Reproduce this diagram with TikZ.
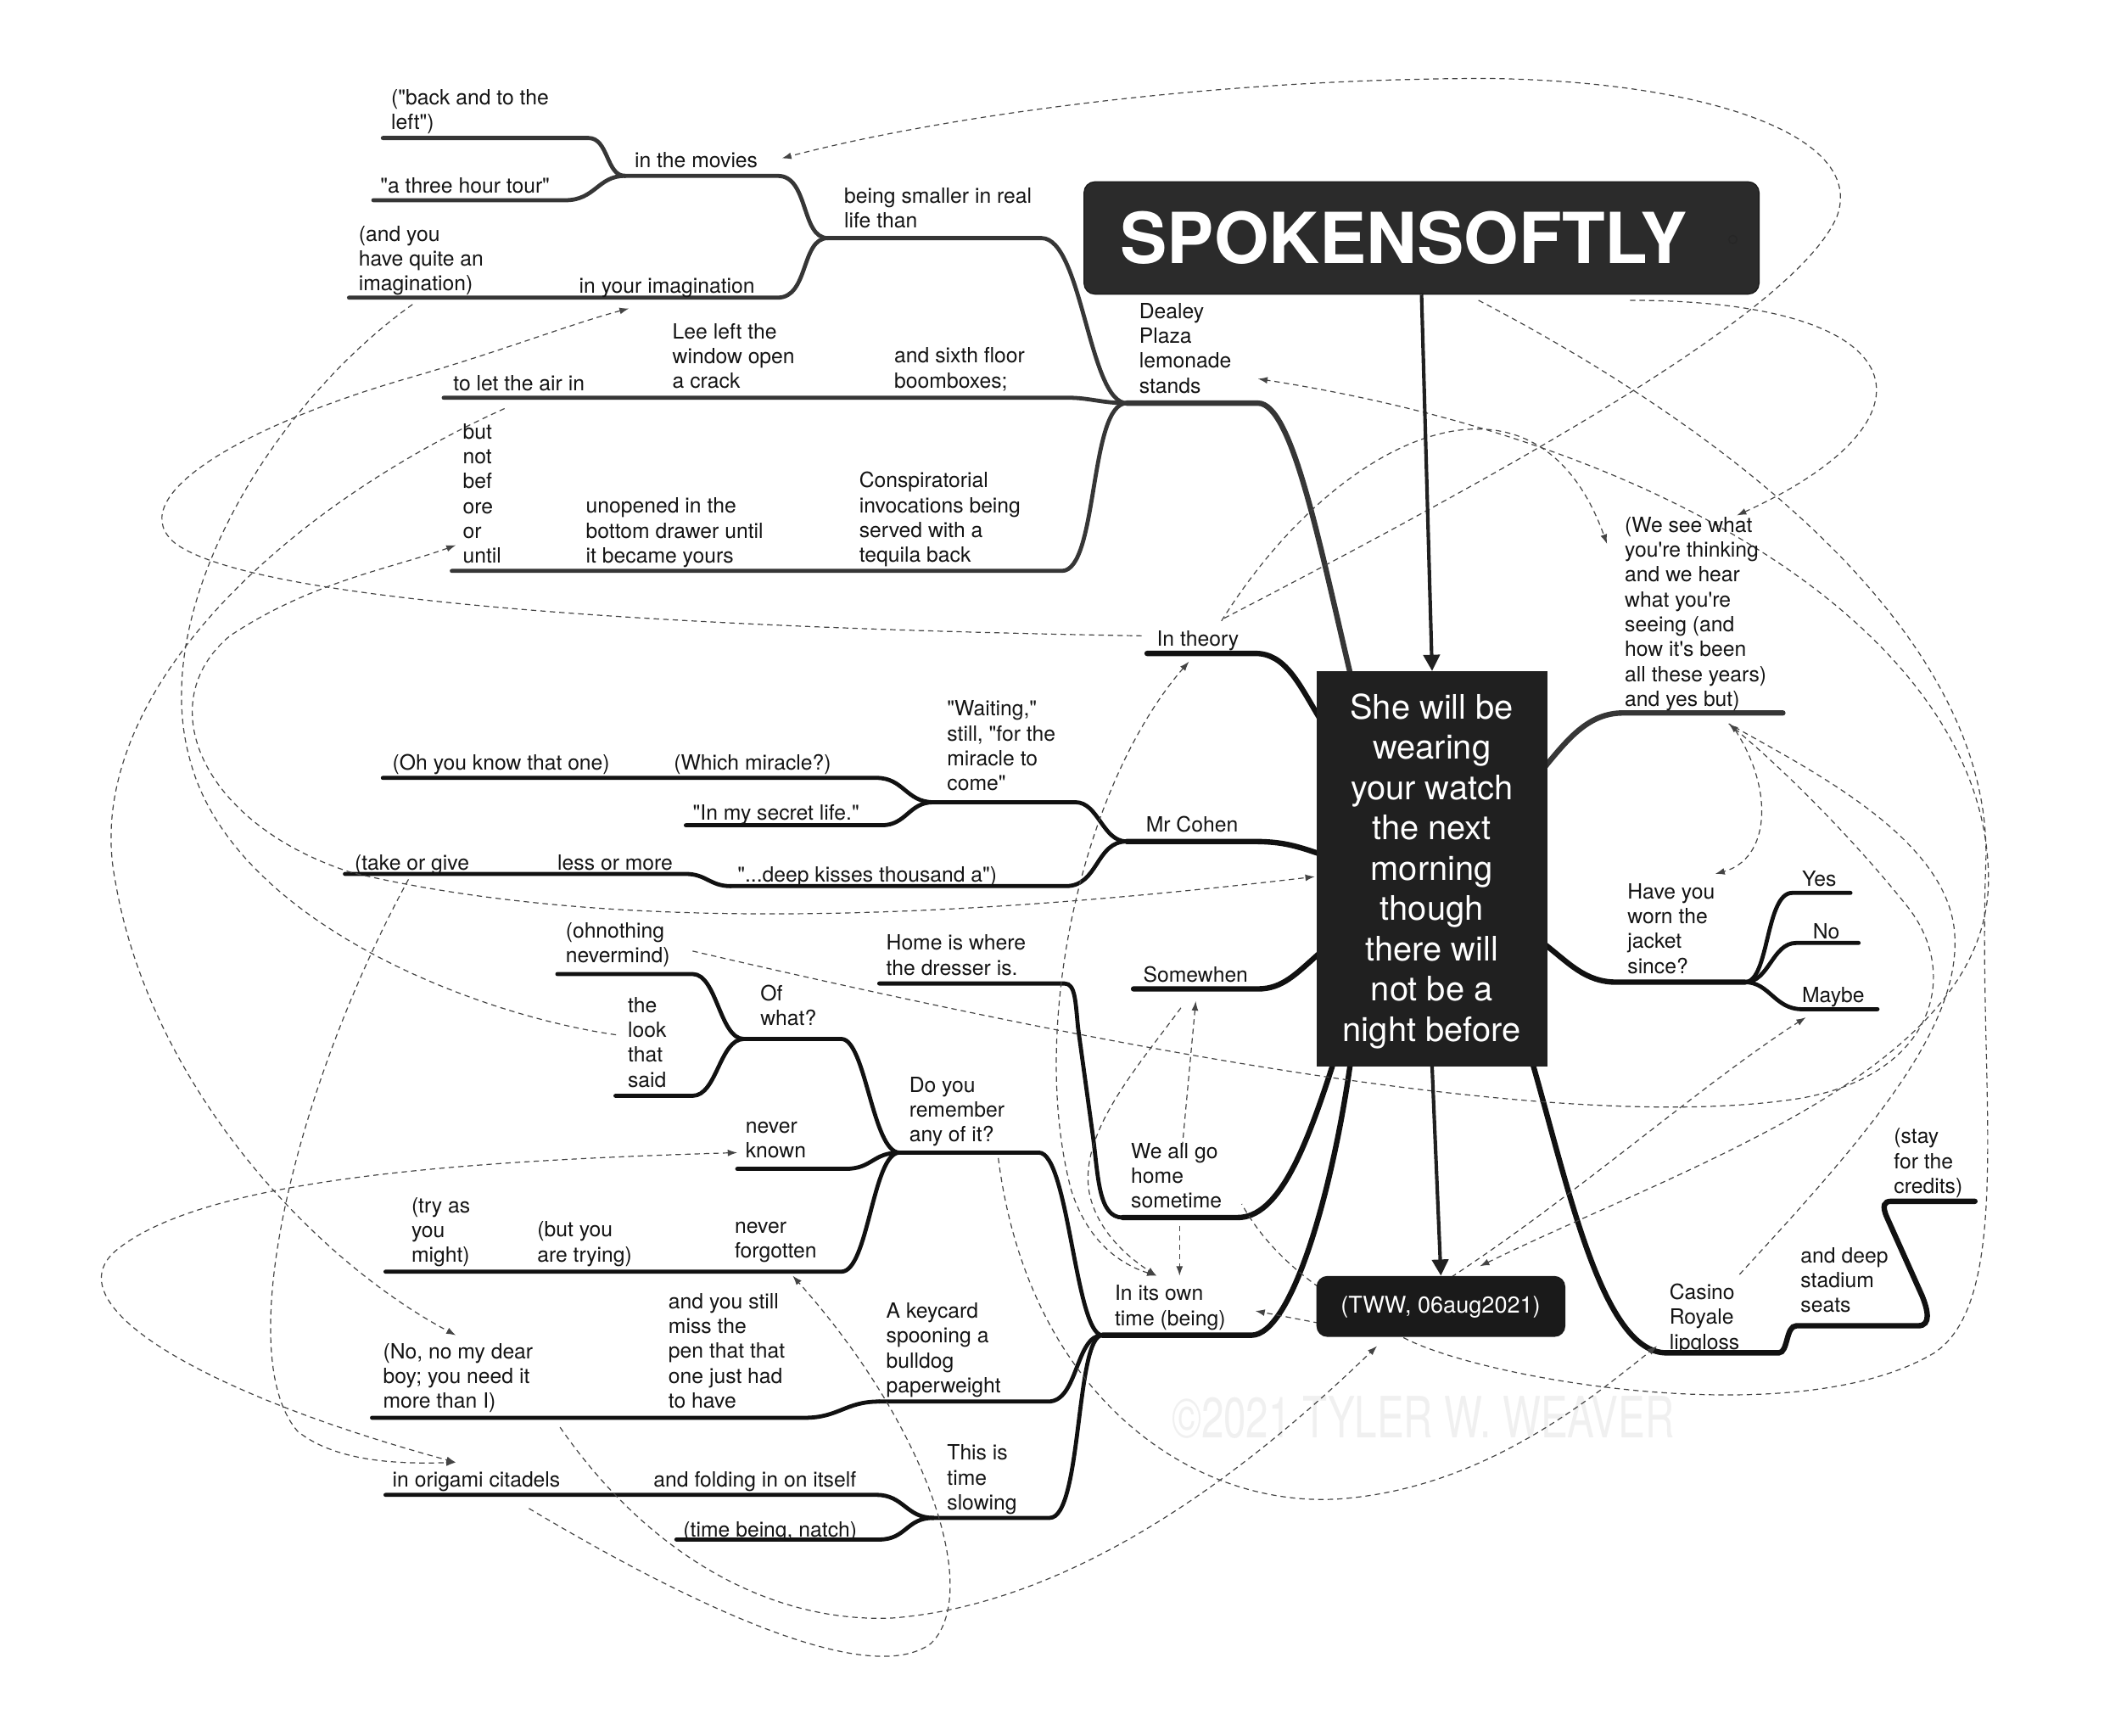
\documentclass[tikz,border=0pt]{standalone}
\usepackage{fontspec}
\usepackage{graphicx}
\setmainfont[Ligatures=TeXOff]{TeX Gyre Heros}
\usetikzlibrary{arrows.meta}
\definecolor{boxA}{HTML}{2B2B2B}
\definecolor{boxB}{HTML}{202020}
\definecolor{boxC}{HTML}{1A1A1A}
\definecolor{lineG}{HTML}{363636}
\definecolor{lineK}{HTML}{111111}
\definecolor{dashc}{HTML}{444444}
\definecolor{wmark}{HTML}{F0F0F0}
\newcommand\lbfont{\fontsize{15.5}{18.4}\selectfont}
\begin{document}
\begin{tikzpicture}[x=1pt,y=-1pt,
  lbl/.style={font=\lbfont, anchor=north west, inner sep=0pt, align=left, execute at begin node=\strut, text=black!92, yshift=-0.8pt},
  brG/.style={draw=lineG, line width=3pt, line cap=round},
  brK/.style={draw=lineK, line width=3pt, line cap=round},
  trunk/.style={line width=4pt},
  dl/.style={draw=dashc, line width=0.75pt, dash pattern=on 4pt off 3pt},
  ah/.style={-{Latex[length=7pt,width=5pt]}},
  ahb/.style={{Latex[length=7pt,width=5pt]}-{Latex[length=7pt,width=5pt]}},
  solidarrow/.style={draw=boxB, line width=2.6pt, -{Triangle[length=12pt,width=12pt]}}]
\fill[white] (0,0) rectangle (1568,1283);
\useasboundingbox (0,0) rectangle (1568,1283);

% watermark
\node[anchor=base west, inner sep=0pt, text=wmark, font=\fontsize{42}{42}\selectfont] (wm) at (866,1063) {\scalebox{0.71}[1]{©2021 TYLER W. WEAVER}};

% ---------- coordinates of branch lines ----------
\coordinate (cDealR) at (930,298); \coordinate (cDealL) at (833,298);
\coordinate (cBeingR) at (770,176); \coordinate (cBeingL) at (612,176);
\coordinate (cSixR) at (790,294); \coordinate (cSixL) at (655,294);
\coordinate (cLeeL) at (405,294); \coordinate (cAirL) at (328,294);
\coordinate (cConR) at (785,422); \coordinate (cConL) at (630,422);
\coordinate (cUnoL) at (428,422); \coordinate (cButL) at (334,422);
\coordinate (cMovR) at (575,130); \coordinate (cMovL) at (462,130);
\coordinate (cImgR) at (575,220); \coordinate (cImgL) at (420,220); \coordinate (cAndL) at (258,220);
\coordinate (cBackR) at (435,102); \coordinate (cBackL) at (283,102);
\coordinate (cTourR) at (418,148); \coordinate (cTourL) at (276,148);
\coordinate (cThR) at (928,483); \coordinate (cThL) at (848,483);
\coordinate (cCohR) at (925,622); \coordinate (cCohL) at (833,622);
\coordinate (cWaitR) at (795,593); \coordinate (cWaitL) at (690,593);
\coordinate (cDeepR) at (788,655); \coordinate (cDeepL) at (540,655);
\coordinate (cWhR) at (648,575); \coordinate (cWhL) at (490,575); \coordinate (cOhL) at (283,575);
\coordinate (cSecR) at (652,610); \coordinate (cSecL) at (507,610);
\coordinate (cLessR) at (507,646); \coordinate (cLessL) at (405,646); \coordinate (cTakeL) at (255,646);
\coordinate (cSomR) at (930,731); \coordinate (cSomL) at (838,731);
\coordinate (cWeR) at (915,900); \coordinate (cWeL) at (830,900);
\coordinate (cHomeR) at (787,727); \coordinate (cHomeL) at (650,727);
\coordinate (cOwnR) at (925,987); \coordinate (cOwnL) at (815,987);
\coordinate (cRemR) at (768,852); \coordinate (cRemL) at (665,852);
\coordinate (cKeyR) at (775,1036); \coordinate (cKeyL) at (650,1036);
\coordinate (cPenR) at (595,1048); \coordinate (cPenL) at (490,1048); \coordinate (cNoL) at (275,1048);
\coordinate (cSlowR) at (776,1122); \coordinate (cSlowL) at (690,1122);
\coordinate (cFoldR) at (648,1105); \coordinate (cFoldL) at (480,1105); \coordinate (cOriL) at (285,1105);
\coordinate (cNatR) at (650,1138); \coordinate (cNatL) at (500,1138);
\coordinate (cOfR) at (622,768); \coordinate (cOfL) at (550,768);
\coordinate (cOhnR) at (512,720); \coordinate (cOhnL) at (412,720);
\coordinate (cLookR) at (512,810); \coordinate (cLookL) at (455,810);
\coordinate (cKnR) at (625,864); \coordinate (cKnL) at (545,864);
\coordinate (cFgR) at (622,940); \coordinate (cFgL) at (540,940); \coordinate (cButyL) at (390,940); \coordinate (cTryL) at (285,940);
\coordinate (cSeeL) at (1200,527); \coordinate (cSeeR) at (1318,527);
\coordinate (cHaveL) at (1195,726); \coordinate (cHaveR) at (1290,726);
\coordinate (cYesL) at (1325,660); \coordinate (cYesR) at (1368,660);
\coordinate (cNoL2) at (1328,697); \coordinate (cNoR2) at (1374,697);
\coordinate (cMayL) at (1332,746); \coordinate (cMayR) at (1388,746);
\coordinate (cCasL) at (1232,1000); \coordinate (cCasR) at (1315,1000);
\coordinate (cSeatL) at (1328,980); \coordinate (cSeatR) at (1418,980);
\coordinate (cCredL) at (1398,888); \coordinate (cCredR) at (1460,888);
\coordinate (kDeal) at (998,497); \coordinate (kTh) at (975,530); \coordinate (kCoh) at (975,631);
\coordinate (kSom) at (975,705); \coordinate (kWe) at (985,788); \coordinate (kOwn) at (998,788);
\coordinate (kSee) at (1142,567); \coordinate (kHave) at (1142,698); \coordinate (kCas) at (1133,786);

% ---------- upper (grey) cluster ----------
\draw[brG, trunk] (kDeal) .. controls (975,400) and (955,298) .. (cDealR) -- (cDealL);
\draw[brG] (cDealL) .. controls (805,298) and (800,176) .. (cBeingR) -- (cBeingL);
\draw[brG] (cDealL) .. controls (815,298) and (805,294) .. (cSixR) -- (cSixL) -- (cLeeL) -- (cAirL);
\draw[brG] (cDealL) .. controls (805,298) and (812,422) .. (cConR) -- (cConL) -- (cUnoL) -- (cButL);
\draw[brG] (cBeingL) .. controls (592,176) and (598,130) .. (cMovR) -- (cMovL);
\draw[brG] (cBeingL) .. controls (592,176) and (598,220) .. (cImgR) -- (cImgL) -- (cAndL);
\draw[brG] (cMovL) .. controls (448,130) and (450,102) .. (cBackR) -- (cBackL);
\draw[brG] (cMovL) .. controls (442,130) and (440,148) .. (cTourR) -- (cTourL);

% ---------- lower (black) cluster ----------
\draw[brK, trunk] (kTh) .. controls (960,505) and (950,483) .. (cThR) -- (cThL);
\draw[brK, trunk] (kCoh) .. controls (955,624) and (945,622) .. (cCohR) -- (cCohL);
\draw[brK] (cCohL) .. controls (815,622) and (812,593) .. (cWaitR) -- (cWaitL);
\draw[brK] (cCohL) .. controls (810,622) and (812,655) .. (cDeepR) -- (cDeepL);
\draw[brK] (cWaitL) .. controls (670,593) and (668,575) .. (cWhR) -- (cWhL) -- (cOhL);
\draw[brK] (cWaitL) .. controls (672,593) and (670,610) .. (cSecR) -- (cSecL);
\draw[brK] (cDeepL) .. controls (525,655) and (522,646) .. (cLessR) -- (cLessL) -- (cTakeL);
\draw[brK, trunk] (kSom) .. controls (958,720) and (948,731) .. (cSomR) -- (cSomL);
\draw[brK, trunk] (kWe) .. controls (965,850) and (945,900) .. (cWeR) -- (cWeL);
\draw[brK] (cWeL) .. controls (812,900) and (812,870) .. (808,840) -- (797,760) .. controls (795,740) and (795,727) .. (cHomeR) -- (cHomeL);
\draw[brK, trunk] (kOwn) .. controls (985,880) and (955,987) .. (cOwnR) -- (cOwnL);
\draw[brK] (cOwnL) .. controls (795,987) and (790,852) .. (cRemR) -- (cRemL);
\draw[brK] (cOwnL) .. controls (795,987) and (797,1036) .. (cKeyR) -- (cKeyL);
\draw[brK] (cKeyL) .. controls (625,1036) and (620,1048) .. (cPenR) -- (cPenL) -- (cNoL);
\draw[brK] (cOwnL) .. controls (795,987) and (800,1122) .. (cSlowR) -- (cSlowL);
\draw[brK] (cSlowL) .. controls (670,1122) and (668,1105) .. (cFoldR) -- (cFoldL) -- (cOriL);
\draw[brK] (cSlowL) .. controls (670,1122) and (670,1138) .. (cNatR) -- (cNatL);
\draw[brK] (cRemL) .. controls (645,852) and (640,768) .. (cOfR) -- (cOfL);
\draw[brK] (cOfL) .. controls (532,768) and (530,720) .. (cOhnR) -- (cOhnL);
\draw[brK] (cOfL) .. controls (532,768) and (530,810) .. (cLookR) -- (cLookL);
\draw[brK] (cRemL) .. controls (645,852) and (645,864) .. (cKnR) -- (cKnL);
\draw[brK] (cRemL) .. controls (645,852) and (642,940) .. (cFgR) -- (cFgL) -- (cButyL) -- (cTryL);

% ---------- right side ----------
\draw[brG, trunk] (kSee) .. controls (1160,545) and (1175,527) .. (cSeeL) -- (cSeeR);
\draw[brK, trunk] (kHave) .. controls (1160,712) and (1172,726) .. (cHaveL) -- (cHaveR);
\draw[brK] (cHaveR) .. controls (1308,726) and (1305,660) .. (cYesL) -- (cYesR);
\draw[brK] (cHaveR) .. controls (1308,726) and (1310,697) .. (cNoL2) -- (cNoR2);
\draw[brK] (cHaveR) .. controls (1308,726) and (1312,746) .. (cMayL) -- (cMayR);
\draw[brK, trunk] (kCas) .. controls (1160,880) and (1185,1000) .. (cCasL) -- (cCasR)
  .. controls (1322,1000) and (1320,980) .. (cSeatL) -- (cSeatR)
  .. controls (1428,980) and (1425,968) .. (1421,958) -- (1395,900)
  .. controls (1391,891) and (1393,888) .. (cCredL) -- (cCredR);

% ---------- dashed cross links ----------
\coordinate (dTh1) at (905,457); \coordinate (dMov) at (578,117);
\coordinate (dTh2) at (903,459); \coordinate (dSee1) at (1188,402);
\coordinate (dSp2) at (1205,222); \coordinate (dSee2) at (1284,381);
\coordinate (dSp1) at (1093,222); \coordinate (dWe1) at (918,890);
\coordinate (dTww1) at (1094,936); \coordinate (dDeal) at (930,280);
\coordinate (dOhn) at (512,703); \coordinate (dSee3) at (1278,535);
\coordinate (dCas) at (1286,942);
\coordinate (dSee4) at (1283,540); \coordinate (dHave) at (1268,646);
\coordinate (dTww2) at (1073,944); \coordinate (dMay) at (1335,752);
\coordinate (dRem) at (738,856); \coordinate (dCas2) at (1225,995);
\coordinate (dNo) at (414,1055); \coordinate (dTww3) at (1018,995);
\coordinate (dOri) at (391,1115); \coordinate (dFg) at (586,943);
\coordinate (dTh3) at (879,489); \coordinate (dOwn1) at (855,943);
\coordinate (dSom1) at (873,745);
\coordinate (dWe2) at (874,848); \coordinate (dSom2) at (884,740);
\coordinate (dWe3) at (872,906); \coordinate (dOwn2) at (872,943);
\coordinate (dTww4) at (975,978); \coordinate (dOwn3) at (928,969);
\coordinate (dTh4) at (844,470); \coordinate (dImg) at (465,228);
\coordinate (dAnd) at (305,225); \coordinate (dLook) at (456,765);
\coordinate (dAir) at (373,302); \coordinate (dNo2) at (337,987);
\coordinate (dCore) at (972,648); \coordinate (dOr) at (337,403);
\coordinate (dTake) at (302,650); \coordinate (dOri2) at (337,1081);
\coordinate (dKn) at (545,852);

\draw[dl, ah] (dTh1) .. controls (1150,330) and (1330,225) .. (1358,160) .. controls (1380,100) and (1260,60) .. (1100,58) .. controls (900,58) and (700,85) .. (dMov);
\draw[dl, ah] (dTh2) .. controls (990,320) and (1135,255) .. (dSee1);
\draw[dl, ah] (dSp2) .. controls (1420,222) and (1440,310) .. (dSee2);
\draw[dl] (dSp1) .. controls (1300,330) and (1475,480) .. (1468,640) .. controls (1462,800) and (1490,960) .. (1430,1000) .. controls (1330,1060) and (1100,1020) .. (1040,990) .. controls (980,960) and (940,930) .. (dWe1);
\draw[dl, ahb] (dTww1) .. controls (1250,860) and (1470,790) .. (1470,650) .. controls (1470,480) and (1250,330) .. (dDeal);
\draw[dl, ah] (dOhn) .. controls (800,770) and (1150,840) .. (1330,812) .. controls (1430,795) and (1450,720) .. (1410,670) .. controls (1370,620) and (1320,570) .. (dSee3);
\draw[dl] (dCas) .. controls (1380,840) and (1450,760) .. (1445,690) .. controls (1440,620) and (1340,570) .. (dSee3);
\draw[dl, ah] (dSee4) .. controls (1312,585) and (1308,635) .. (dHave);
\draw[dl, ah] (dTww2) .. controls (1170,880) and (1260,800) .. (dMay);
\draw[dl, ah] (dRem) .. controls (760,1030) and (880,1115) .. (990,1108) .. controls (1100,1100) and (1180,1030) .. (dCas2);
\draw[dl, ah] (dNo) .. controls (480,1150) and (570,1200) .. (660,1196) .. controls (800,1185) and (930,1080) .. (dTww3);
\draw[dl, ah] (dOri) .. controls (500,1180) and (640,1250) .. (688,1215) .. controls (725,1180) and (690,1060) .. (dFg);
\draw[dl, ahb] (dOwn1) .. controls (830,935) and (805,920) .. (792,880) .. controls (760,760) and (800,580) .. (dTh3);
\draw[dl, ah] (dSom1) .. controls (840,790) and (795,840) .. (806,885) .. controls (813,912) and (835,930) .. (dOwn1);
\draw[dl, ah] (dWe2) -- (dSom2);
\draw[dl, ah] (dWe3) -- (dOwn2);
\draw[dl, ah] (dTww4) -- (dOwn3);
\draw[dl, ah] (dTh4) .. controls (600,466) and (200,452) .. (130,402) .. controls (90,370) and (170,318) .. (300,280) .. controls (370,260) and (420,240) .. (dImg);
\draw[dl] (dAnd) .. controls (200,300) and (110,450) .. (140,560) .. controls (170,680) and (350,750) .. (dLook);
\draw[dl, ah] (dAir) .. controls (200,380) and (60,520) .. (85,650) .. controls (110,800) and (230,930) .. (dNo2);
\draw[dl, ahb] (dOr) .. controls (290,420) and (230,430) .. (170,470) .. controls (110,520) and (150,610) .. (260,645) .. controls (450,690) and (700,680) .. (dCore);
\draw[dl, ah] (dTake) .. controls (220,800) and (170,1000) .. (220,1058) .. controls (250,1082) and (300,1082) .. (dOri2);
\draw[dl, ahb] (dKn) .. controls (350,858) and (150,870) .. (85,925) .. controls (40,965) and (150,1030) .. (dOri2);

% ---------- boxes ----------
\node[draw=black!90, fill=boxA, rounded corners=8pt, minimum width=499pt, minimum height=83pt, anchor=north west, inner sep=0pt, line width=0.8pt] (title) at (801,134) {};
\node[anchor=west, inner sep=0pt, text=white, font=\fontsize{52}{60}\selectfont\bfseries] (titletext) at (828,176) {SPOKENSOFTLY};
\node[circle, draw=black!85, line width=0.8pt, minimum size=6pt, inner sep=0pt] (titledot) at (1281,177) {};
\node[fill=boxB, minimum width=171pt, minimum height=292pt, anchor=north west, inner sep=0pt] (core) at (973,496) {};
\node[text=white, align=center, inner sep=0pt, font=\fontsize{25}{29.8}\selectfont] (coretext) at (1058.5,644) {She will be\\wearing\\your watch\\the next\\morning\\though\\there will\\not be a\\night before};
\node[fill=boxC, rounded corners=8pt, minimum width=184pt, minimum height=45pt, anchor=north west, inner sep=0pt] (tww) at (973,943) {};
\node[text=white, inner sep=0pt, font=\fontsize{17}{20}\selectfont] (twwtext) at (1065,966) {(TWW, 06aug2021)};
\draw[solidarrow] (title.south) -- (core.north);
\draw[solidarrow] (core.south) -- (tww.north);

% ---------- labels ----------
\node[lbl] (nBack) at (289,65) {("back and to the\\left")};
\node[lbl] (nTour) at (281,129) {"a three hour tour"};
\node[lbl] (nMov) at (469,110) {in the movies};
\node[lbl] (nBeing) at (624,138) {being smaller in real\\life than};
\node[lbl] (nAnd) at (265,166) {(and you\\have quite an\\imagination)};
\node[lbl] (nImg) at (428,203) {in your imagination};
\node[lbl] (nDeal) at (842,223) {Dealey\\Plaza\\lemonade\\stands};
\node[lbl] (nLee) at (497,238) {Lee left the\\window open\\a crack};
\node[lbl] (nSix) at (661,256) {and sixth floor\\boomboxes;};
\node[lbl] (nAir) at (335,275) {to let the air in};
\node[lbl] (nBut) at (342,312) {but\\not\\bef\\ore\\or\\until};
\node[lbl] (nUno) at (433,367) {unopened in the\\bottom drawer until\\it became yours};
\node[lbl] (nCon) at (635,348) {Conspiratorial\\invocations being\\served with a\\tequila back};
\node[lbl] (nTh) at (855,464) {In theory};
\node[lbl] (nWait) at (700,517) {"Waiting,"\\still, "for the\\miracle to\\come"};
\node[lbl] (nWh) at (498,555) {(Which miracle?)};
\node[lbl] (nOh) at (290,555) {(Oh you know that one)};
\node[lbl] (nSec) at (512,592) {"In my secret life."};
\node[lbl] (nCoh) at (847,601) {Mr Cohen};
\node[lbl] (nTake) at (262,629) {(take or give};
\node[lbl] (nLess) at (412,629) {less or more};
\node[lbl] (nDeep) at (545,638) {"...deep kisses thousand a")};
\node[lbl] (nOhn) at (418,681) {(ohnothing\\nevermind)};
\node[lbl] (nHome) at (655,690) {Home is where\\the dresser is.};
\node[lbl] (nSom) at (845,712) {Somewhen};
\node[lbl] (nOf) at (562,727) {Of\\what?};
\node[lbl] (nLook) at (464,736) {the\\look\\that\\said};
\node[lbl] (nRem) at (672,795) {Do you\\remember\\any of it?};
\node[lbl] (nKn) at (551,828) {never\\known};
\node[lbl] (nWe) at (836,844) {We all go\\home\\sometime};
\node[lbl] (nTry) at (304,884) {(try as\\you\\might)};
\node[lbl] (nButy) at (397,902) {(but you\\are trying)};
\node[lbl] (nFg) at (543,902) {never\\forgotten};
\node[lbl] (nOwn) at (824,949) {In its own\\time (being)};
\node[lbl] (nKey) at (655,962) {A keycard\\spooning a\\bulldog\\paperweight};
\node[lbl] (nPen) at (494,955) {and you still\\miss the\\pen that that\\one just had\\to have};
\node[lbl] (nNo) at (283,992) {(No, no my dear\\boy; you need it\\more than I)};
\node[lbl] (nSlow) at (700,1067) {This is\\time\\slowing};
\node[lbl] (nOri) at (290,1085) {in origami citadels};
\node[lbl] (nFold) at (483,1085) {and folding in on itself};
\node[lbl] (nNat) at (505,1122) {(time being, natch)};
\node[lbl] (nSee) at (1201,381) {(We see what\\you're thinking\\and we hear\\what you're\\seeing (and\\how it's been\\all these years)\\and yes but)};
\node[lbl] (nHave) at (1203,652) {Have you\\worn the\\jacket\\since?};
\node[lbl] (nYes) at (1332,641) {Yes};
\node[lbl] (nNo2) at (1340,680) {No};
\node[lbl] (nMay) at (1332,727) {Maybe};
\node[lbl] (nCas) at (1234,948) {Casino\\Royale\\lipgloss};
\node[lbl] (nSeat) at (1331,921) {and deep\\stadium\\seats};
\node[lbl] (nCred) at (1400,833) {(stay\\for the\\credits)};
\end{tikzpicture}
\end{document}
